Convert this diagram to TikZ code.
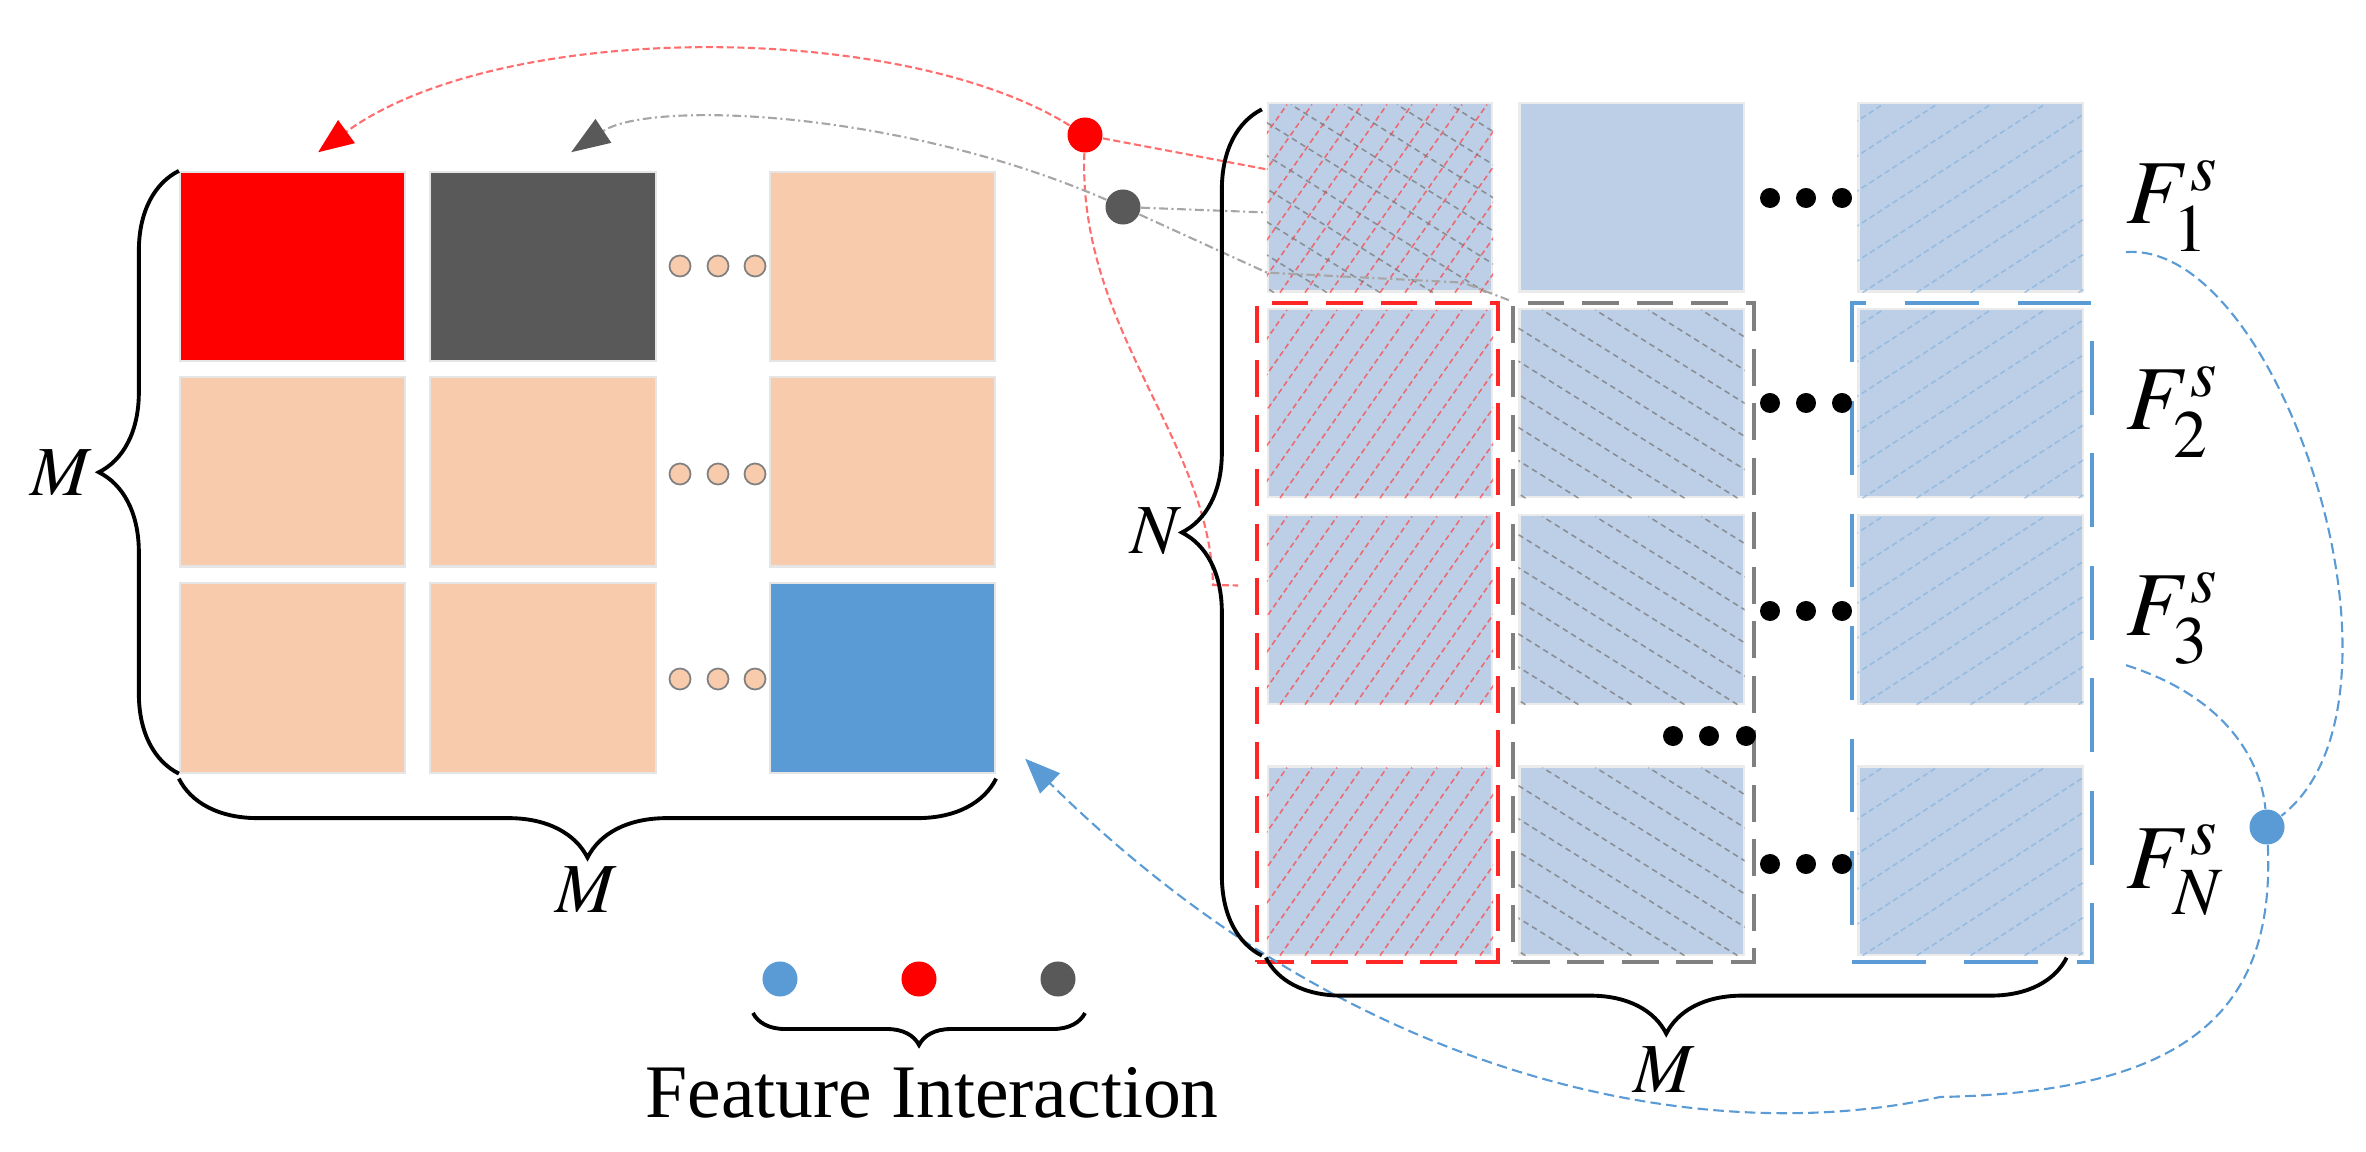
\documentclass[tikz,border=0pt]{standalone}
\usepackage{mathptmx}
\usepackage{fontspec}
\setmainfont{Liberation Serif}
\usepackage{xcolor}
\usepackage{tikz}
\usetikzlibrary{arrows.meta,positioning,calc,decorations.pathreplacing}
\definecolor{peach}{RGB}{247,203,172}
\definecolor{cellblue}{RGB}{189,207,231}
\definecolor{keyred}{RGB}{255,0,0}
\definecolor{keygrey}{RGB}{89,89,89}
\definecolor{keyblue}{RGB}{91,155,213}
\definecolor{boxgrey}{RGB}{128,128,128}
\definecolor{linkpink}{RGB}{255,110,110}
\tikzset{
lcell/.style={rectangle,draw=black!10,line width=0.6pt,inner sep=0pt,minimum width=2.25cm,minimum height=1.89cm},
rcell/.style={rectangle,draw=black!8,line width=0.6pt,fill=cellblue,inner sep=0pt,minimum width=2.24cm,minimum height=1.88cm},
colbox/.style={rectangle,line width=1pt,inner sep=0pt,minimum width=2.41cm,minimum height=6.59cm},
boxred/.style={colbox,draw=keyred!85,dash pattern=on 10.5pt off 5pt},
boxgrey/.style={colbox,draw=boxgrey,dash pattern=on 10.5pt off 5pt},
boxblue/.style={colbox,draw=keyblue,dash pattern=on 21pt off 11pt},
hatchred/.style={draw=red!75,opacity=0.7,line width=0.45pt,dash pattern=on 1.6pt off 1pt},
hatchgrey/.style={draw=black!55,opacity=0.7,line width=0.45pt,dash pattern=on 1.6pt off 1.2pt},
hatchblue/.style={draw=keyblue!80,opacity=0.6,line width=0.45pt,dash pattern=on 1.6pt off 1pt},
hub/.style={circle,inner sep=0pt,minimum size=0.35cm},
lipsis/.style={fill=peach,draw=black!50,line width=0.5pt},
linkred/.style={draw=linkpink,line width=0.6pt,dash pattern=on 2pt off 1pt},
linkgrey/.style={draw=black!35,line width=0.6pt,dash pattern=on 2.5pt off 1pt on 0.6pt off 1pt},
linkblue/.style={draw=keyblue,line width=0.6pt,dash pattern=on 3pt off 1.5pt},
bracepen/.style={decorate,decoration={brace,amplitude=#1},line width=1.1pt},
dimlabel/.style={inner sep=0pt,font=\fontsize{20}{24}\selectfont},
flabel/.style={inner sep=0pt,anchor=base west,font=\fontsize{26}{30}\selectfont},
keytext/.style={inner sep=0pt,anchor=base,font=\fontsize{21.5}{26}\selectfont}
}
% hatch a right-matrix cell: node, style, slant, step
\newcommand{\hatchcell}[4]{%
  \begin{scope}
    \clip (#1.south west) rectangle (#1.north east);
    \foreach \k in {-12,...,12}
      \draw[#2] ($(#1.south)+(\k*#4,0)$) -- ++(#3,-188);
  \end{scope}}

\begin{document}
\begin{tikzpicture}[
x=0.01cm,
y=-0.01cm,
every node/.style={font=\fontsize{20}{24}\selectfont}
]
\useasboundingbox (0,0) rectangle (2366,1152);

% interaction matrix
\node[lcell,fill=keyred]  (l11) at (292.5,266.5) {};
\node[lcell,fill=keygrey] (l12) at (543,266.5) {};
\node[lcell,fill=peach]   (l13) at (882.5,266.5) {};
\node[lcell,fill=peach]   (l21) at (292.5,472) {};
\node[lcell,fill=peach]   (l22) at (543,472) {};
\node[lcell,fill=peach]   (l23) at (882.5,472) {};
\node[lcell,fill=peach]   (l31) at (292.5,678) {};
\node[lcell,fill=peach]   (l32) at (543,678) {};
\node[lcell,fill=keyblue] (l33) at (882.5,678) {};
\foreach \y in {266,474,679}
  \foreach \x in {680,718,755}
    \filldraw[lipsis] (\x,\y) circle (0.105cm);

% feature matrix
\node[rcell] (r11) at (1380,197.5) {};
\node[rcell] (r12) at (1631.5,197.5) {};
\node[rcell] (r13) at (1970.5,197.5) {};
\node[rcell] (r21) at (1380,403) {};
\node[rcell] (r22) at (1631.5,403) {};
\node[rcell] (r23) at (1970.5,403) {};
\node[rcell] (r31) at (1380,609.5) {};
\node[rcell] (r32) at (1631.5,609.5) {};
\node[rcell] (r33) at (1970.5,609.5) {};
\node[rcell] (rn1) at (1380,860.5) {};
\node[rcell] (rn2) at (1631.5,860.5) {};
\node[rcell] (rn3) at (1970.5,860.5) {};

\hatchcell{r11}{hatchred}{132}{25}
\hatchcell{r11}{hatchgrey}{-301}{53}
\hatchcell{r13}{hatchblue}{290}{54}
\foreach \r in {2,3,n}{
  \hatchcell{r\r1}{hatchred}{132}{25}
  \hatchcell{r\r2}{hatchgrey}{-301}{53}
  \hatchcell{r\r3}{hatchblue}{290}{54}
}

\node[boxred]  (redcol)  at (1377.5,632.5) {};
\node[boxgrey] (greycol) at (1633.5,632.5) {};
\node[boxblue,minimum width=2.40cm] (bluecol) at (1972,632.5) {};

\foreach \y in {198,403,611,864}
  \foreach \x in {1770,1806,1842}
    \fill (\x,\y) circle (0.1cm);
\foreach \x in {1673,1709,1746}
  \fill (\x,736) circle (0.1cm);

% interactions
\node[hub,fill=keyred]  (redhub)  at (1085,135) {};
\node[hub,fill=keygrey] (greyhub) at (1123,207) {};
\node[hub,fill=keyblue] (bluehub) at (2267,827) {};

\draw[linkred] (redhub) -- ($(r11.north west)+(0,67)$);
\draw[linkred] (redhub) .. controls (1078,330) and (1210,440) .. (1213,585) -- ($(redcol.west)+(-17,-47)$);
\draw[linkred,-{Triangle[length=10pt,width=8pt,color=keyred]},shorten >=9pt]
  (redhub) .. controls (900,20) and (500,20) .. (l11.north);
\draw[linkgrey] (greyhub) -- ($(r11.west)+(0,15)$);
\draw[linkgrey] (greyhub) -- ($(r11.south west)+(0,-20)$) -- ($(r11.south east)+(-30,-10)$) -- (greycol.north west);
\draw[linkgrey,-{Triangle[length=11pt,width=8pt,color=keygrey]},shorten >=9.6pt]
  (greyhub) .. controls (900,110) and (650,100) .. (l12.north);

% feature labels
\node[flabel] (f1) at (2126,224) {$F_1^s$};
\node[flabel] (f2) at (2126,430) {$F_2^s$};
\node[flabel] (f3) at (2126,636) {$F_3^s$};
\node[flabel] (fn) at (2126,888) {$F_N^s$};

\draw[linkblue] (f1.south west) .. controls (2280,240) and (2430,700) .. (bluehub);
\draw[linkblue] (f3.south west) .. controls (2235,700) and (2262,770) .. (bluehub);
\draw[linkblue,-{Triangle[length=10pt,width=8pt,color=keyblue]},shorten >=11.6pt]
  (bluehub) .. controls (2275,1010) and (2190,1092) .. (1940,1097)
  .. controls (1700,1150) and (1350,1080) .. ($(l33.east)+(0,52)$);

% braces
\draw[bracepen=0.8cm] (l31.south west) -- (l11.north west);
\draw[bracepen=0.79cm] ($(l33.south east)+(0,5)$) -- ($(l31.south west)+(0,5)$);
\draw[bracepen=0.8cm] ($(rn1.south west)+(-5,0)$) -- ($(r11.north west)+(-5,7)$);
\draw[bracepen=0.76cm] ($(rn3.south east)+(-17,2)$) -- ($(rn1.south west)+(-1,2)$);
\node[dimlabel] (mleft)  at (61,473)   {$M$};
\node[dimlabel] (mbelow) at (586,890)  {$M$};
\node[dimlabel] (nleft)  at (1156,531) {$N$};
\node[dimlabel] (mright) at (1664,1070) {$M$};

% legend
\node[hub,fill=keyblue] (keyb) at (780,979) {};
\node[hub,fill=keyred]  (keyr) at (919,979) {};
\node[hub,fill=keygrey] (keyg) at (1058,979) {};
\draw[bracepen=0.32cm] ($(keyg)+(27,34)$) -- ($(keyb)+(-27,34)$);
\node[keytext] (keylabel) at (932,1117) {Feature Interaction};
\end{tikzpicture}
\end{document}
